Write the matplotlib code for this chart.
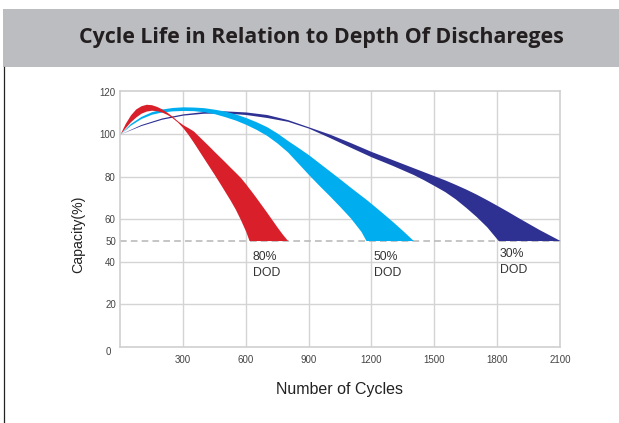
import matplotlib.pyplot as plt
from matplotlib.patches import Rectangle
from matplotlib.lines import Line2D

plt.rcParams['font.family'] = ['Liberation Sans', 'DejaVu Sans']

# ---- data ----
title = "Cycle Life in Relation to Depth Of Dischareges"

red_x = [0, 25, 50, 75, 100, 125, 150, 175, 200, 225, 250, 275, 300, 325, 350,
         375, 400, 425, 450, 475, 500, 525, 550, 575, 600, 616, 625, 650, 675,
         700, 725, 750, 775, 800]
red_hi = [100, 105, 109, 111.8, 113.3, 114, 113.8, 113, 111.8, 110.2, 108.3, 106.2,
          104.4, 103, 101.5, 99.1, 96.7, 94.3, 91.8, 89.4, 87, 84.5, 82.1, 79.6,
          76.6, 74.5, 73.4, 70.1, 66.7, 63.3, 59.8, 56.3, 53, 50]
red_lo = [100, 103, 105.8, 108, 109.8, 110.8, 111.2, 111, 110.3, 109.2, 107.6, 105.6,
          103, 99.8, 96.2, 92.4, 88.6, 84.8, 81, 77.1, 73.1, 69.1, 64.8, 59.8,
          54.3, 50, 50, 50, 50, 50, 50, 50, 50, 50]

cyan_x = [0, 50, 100, 150, 200, 250, 300, 350, 400, 450, 500, 550, 600, 650, 700,
          750, 800, 850, 900, 950, 1000, 1050, 1100, 1150, 1174, 1200, 1250, 1300,
          1350, 1400]
cyan_hi = [100, 105, 108.3, 110.5, 111.8, 112.5, 112.8, 112.7, 112.4, 111.7, 110.8,
           109.5, 107.8, 105.8, 103.5, 100.5, 97, 93.7, 90.3, 86.5, 82.7, 78.9, 75,
           71.2, 69.4, 67.3, 63.2, 59, 54.6, 50]
cyan_lo = [100, 104.2, 107.3, 109.3, 110.4, 110.9, 111.1, 111, 110.5, 109.6, 108.2,
           106.6, 104.6, 102.2, 99.4, 95.8, 91.6, 86.3, 81, 75.9, 71, 65.9, 60.6,
           54.3, 50, 50, 50, 50, 50, 50]

navy_x = [0, 100, 200, 300, 400, 500, 600, 700, 800, 900, 1000, 1100, 1200, 1300,
          1400, 1450, 1500, 1550, 1600, 1650, 1700, 1750, 1805, 1850, 1900, 1950,
          2000, 2050, 2100]
navy_hi = [100, 104.5, 107.6, 109.5, 110.6, 110.9, 110.4, 109.2, 106.8, 103.4, 100,
           96, 91.8, 88, 84.2, 82.3, 80.4, 78.5, 76.4, 74.2, 71.8, 69.2, 66.2, 63.7,
           60.8, 58, 55.2, 52.6, 50]
navy_lo = [100, 104, 107, 108.9, 109.8, 109.9, 109.2, 107.8, 106, 102.8, 98.4, 93.8,
           89.3, 85.3, 81, 78.5, 75.8, 73, 69.6, 65.6, 61.3, 56.5, 50, 50, 50, 50,
           50, 50, 50]

end_level = 50
dod_labels = ["80%\nDOD", "50%\nDOD", "30%\nDOD"]
dod_label_x = [634, 1212, 1813]
dod_label_y = [45.3, 45.3, 46.5]

x_ticks = [300, 600, 900, 1200, 1500, 1800, 2100]
y_ticks = [20, 40, 50, 60, 80, 100, 120]

# ---- figure ----
fig = plt.figure(figsize=(6.19, 4.23), dpi=100)
fig.patch.set_facecolor("white")

# header band + page border line
fig.patches.append(Rectangle((3 / 619, 1 - 66.5 / 423), 1, 58 / 423,
                             transform=fig.transFigure, facecolor="#bcbdc0",
                             edgecolor="none", zorder=0))
fig.lines.append(Line2D([3.5 / 619, 3.5 / 619], [0, 1 - 66.5 / 423],
                        transform=fig.transFigure, color="#222222", lw=0.9))
fig.text(0.5186, 1 - 38 / 423, title, ha="center", va="center",
         fontsize=15.4, fontweight="bold", family="Open Sans", color="#231f20")

ax = fig.add_axes([120 / 619, 1 - 347 / 423, 440 / 619, 255.5 / 423])
ax.set_xlim(0, 2100)
ax.set_ylim(0, 120)

ax.fill_between(navy_x, navy_lo, navy_hi, color="#2e3192", lw=0, zorder=3)
ax.fill_between(cyan_x, cyan_lo, cyan_hi, color="#00aeef", lw=0, zorder=4)
ax.fill_between(red_x, red_lo, red_hi, color="#d9202a", lw=0, zorder=5)

ax.axhline(end_level, color="#bbbbbb", lw=1.2, ls=(0, (4, 2.5)), zorder=2)

ax.set_xticks(x_ticks)
ax.set_yticks(y_ticks)
ax.tick_params(length=0, labelsize=7.0, labelcolor="#444444")
ax.tick_params(axis="x", pad=6)
ax.tick_params(axis="y", pad=3)
ax.text(-0.02, -0.02, "0", transform=ax.transAxes, ha="right", va="center",
        fontsize=7.0, color="#444444")

for gy in [20, 40, 60, 80, 100]:
    ax.axhline(gy, color="#d4d4d4", lw=1, zorder=1)
for gx in [300, 600, 900, 1200, 1500, 1800]:
    ax.axvline(gx, color="#d4d4d4", lw=1, zorder=1)
for s in ax.spines.values():
    s.set_color("#d0d0d0")
    s.set_linewidth(1.2)

for lab, lx, ly in zip(dod_labels, dod_label_x, dod_label_y):
    ax.text(lx, ly, lab, ha="left", va="top", fontsize=8.8,
            color="#333333", linespacing=1.45, zorder=6)

ax.set_xlabel("Number of Cycles", fontsize=11.5, color="#222222", labelpad=12)
ax.set_ylabel("Capacity(%)", fontsize=10.2, color="#222222")
ax.yaxis.set_label_coords(-0.078, 0.44)

fig.savefig("out.png", dpi=100)
